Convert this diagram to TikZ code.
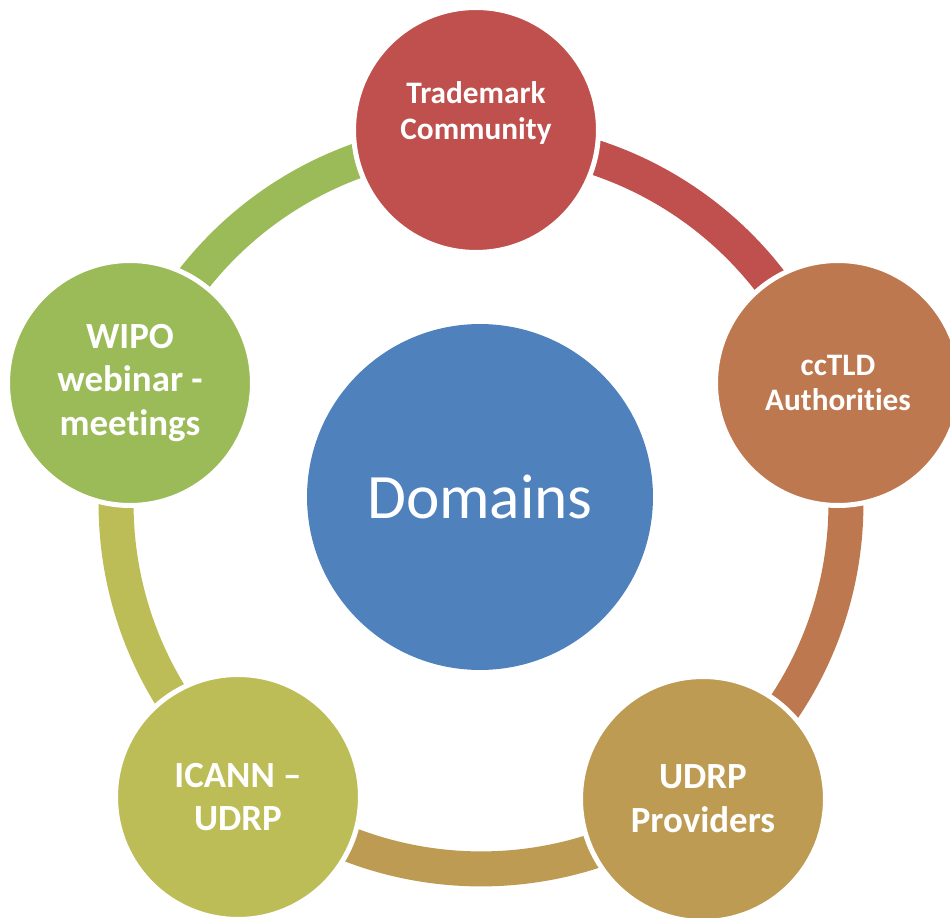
\documentclass[tikz,border=0pt]{standalone}
\usepackage{fontspec}
\setmainfont{Carlito}[Ligatures=NoCommon]
\usepackage{tikz}
\usetikzlibrary{positioning}

\definecolor{hubblue}{HTML}{4F81BD}
\definecolor{tmred}{HTML}{C0504D}
\definecolor{ccorange}{HTML}{BE7850}
\definecolor{udrpgold}{HTML}{BE9B52}
\definecolor{icannolive}{HTML}{BDBD57}
\definecolor{wipogreen}{HTML}{9BBB59}

\begin{document}
\begin{tikzpicture}[
        x=0.02cm, y=0.02cm,
        ring/.style={line width=0.7cm},
        bubble/.style={circle, draw=white, line width=0.1cm, minimum size=4.9cm, inner sep=0pt, text=white, align=center},
        smalltext/.style={font=\bfseries\fontsize{17.8}{20}\selectfont},
        bigtext/.style={font=\bfseries\fontsize{21}{25}\selectfont},
        hub/.style={circle, fill=hubblue, minimum size=6.92cm, inner sep=0pt, text=white, font=\fontsize{36}{43}\selectfont}
    ]
        \clip (0,0) rectangle (950,917);
        \fill[white] (0,0) rectangle (950,917);
        \coordinate (ringc) at (481,413);

        % the ring, one coloured piece per bubble
        \foreach \a/\b/\c in {90.8/18.7/tmred, 18.7/-53/ccorange, -53/-129.7/udrpgold, -129.7/-199/icannolive, 161/90.8/wipogreen}
            \draw[ring, draw=\c] (ringc) ++(\a:7.3cm) arc[start angle=\a, end angle=\b, radius=7.3cm];

        \node[hub] (domains) at (480,420) {Domains};

        \node[bubble, fill=tmred] (trademark) at (476,787) {};
        \node[smalltext, text=white, align=center] (tmtext) at ([yshift=0.34cm]trademark.center) {Trademark\\Community};
        \node[bubble, smalltext, fill=ccorange] (cctld) at (838,534) {ccTLD\\Authorities};
        \node[bubble, bigtext, fill=udrpgold] (providers) at (703,118) {UDRP\\Providers};
        \node[bubble, bigtext, fill=icannolive] (icann) at (238,120) {ICANN --\\UDRP};
        \node[bubble, bigtext, fill=wipogreen] (wipo) at (130,534) {WIPO\\webinar -\\meetings};
    \end{tikzpicture}
\end{document}
